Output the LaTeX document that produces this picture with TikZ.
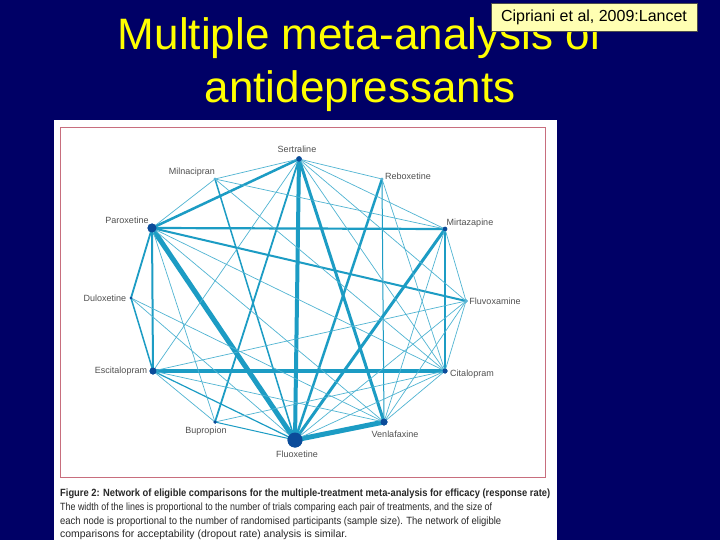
\documentclass[tikz,border=0pt]{standalone}
\usepackage{fontspec}
\setmainfont{Liberation Sans}
\usepackage{graphicx}
\definecolor{bg}{RGB}{0,0,102}
\definecolor{ttl}{RGB}{255,255,0}
\definecolor{note}{RGB}{255,255,178}
\definecolor{teal1}{RGB}{28,156,196}
\definecolor{tealthin}{RGB}{80,180,210}
\definecolor{nodeblue}{RGB}{11,76,154}
\definecolor{lightnode}{RGB}{90,180,215}
\definecolor{framec}{RGB}{200,110,125}
\definecolor{lblc}{RGB}{80,80,80}
\definecolor{capc}{RGB}{40,40,40}
\begin{document}
\begin{tikzpicture}[x=1pt,y=-1pt,
 edge/.style={draw=teal1},
 thinedge/.style={draw=tealthin, line width=0.7pt},
 dot/.style={circle, fill=nodeblue, inner sep=0pt},
 ldot/.style={circle, fill=lightnode, inner sep=0pt},
 lbl/.style={font=\fontsize{9}{10}\selectfont, text=lblc, inner sep=0pt},
 capl/.style={anchor=base west, inner sep=0pt, text=capc, font=\fontsize{10.5}{12}\selectfont},
]
\useasboundingbox (0,0) rectangle (720,540);
\fill[bg] (0,0) rectangle (720,540);
% title
\node[text=ttl, font=\fontsize{44}{50}\selectfont, anchor=base, inner sep=0pt] (t1) at (360,50) {Multiple meta-analysis of};
\node[text=ttl, font=\fontsize{44}{50}\selectfont, anchor=base, inner sep=0pt] (t2) at (360,103) {antidepressants};
% citation box
\node[draw=black!70, line width=0.6pt, fill=note, minimum width=206pt, minimum height=28pt, inner sep=0pt,
      font=\fontsize{16}{18}\selectfont] (cite) at (594,17) {Cipriani et al, 2009:Lancet};
% white panel and frame
\fill[white] (54,120) rectangle (557,540);
\draw[framec, line width=0.9pt] (60,127) rectangle (545,477);
% nodes
\node[dot, minimum size=5.5pt] (Ser) at (299,159) {};
\node[ldot, minimum size=2.6pt] (Reb) at (382,179) {};
\node[dot, minimum size=4.5pt] (Mir) at (445,229) {};
\node[ldot, minimum size=3.5pt] (Flv) at (466,301) {};
\node[dot, minimum size=5pt] (Cit) at (445,371) {};
\node[dot, minimum size=7pt] (Ven) at (384,422) {};
\node[dot, minimum size=15pt] (Flx) at (295,440) {};
\node[dot, minimum size=3.5pt] (Bup) at (215,422) {};
\node[dot, minimum size=7pt] (Esc) at (153,371) {};
\node[dot, minimum size=2.8pt] (Dul) at (131,298) {};
\node[dot, minimum size=9pt] (Par) at (152,228) {};
\node[ldot, minimum size=2.6pt] (Mil) at (215,179) {};
% edges
\begin{scope}[on background layer/.style={}]
\foreach \a/\b/\w in {Par/Flx/5, Flx/Ven/5, Ser/Flx/4, Ser/Ven/3, Esc/Cit/3.2, Par/Ser/2.5,
  Par/Mir/2.2, Flx/Mir/3, Flx/Reb/2.5, Par/Flv/2, Par/Esc/2, Par/Dul/1.8, Ser/Bup/1.8,
  Mil/Flx/1.5, Mir/Cit/1.5, Esc/Dul/1.5, Reb/Ven/1, Flx/Esc/1.2, Flx/Bup/1}
  \draw[edge, line width=\w pt] (\a.center) -- (\b.center);
\foreach \a/\b in {Ser/Mil, Ser/Reb, Ser/Mir, Ser/Flv, Ser/Cit, Ser/Esc, Par/Mil, Par/Cit,
  Par/Ven, Par/Bup, Mil/Mir, Mil/Cit, Reb/Cit, Mir/Flv, Mir/Ven, Flv/Cit, Flv/Flx, Flv/Ven,
  Flv/Esc, Cit/Flx, Cit/Ven, Cit/Bup, Ven/Esc, Ven/Dul, Flx/Dul, Esc/Bup}
  \draw[thinedge] (\a.center) -- (\b.center);
\end{scope}
% redraw nodes on top
\foreach \n/\s/\c in {Ser/5.5/nodeblue, Reb/2.6/lightnode, Mir/4.5/nodeblue, Flv/3.5/lightnode,
  Cit/5/nodeblue, Ven/7/nodeblue, Flx/15/nodeblue, Bup/3.5/nodeblue, Esc/7/nodeblue,
  Dul/2.8/nodeblue, Par/9/nodeblue, Mil/2.6/lightnode}
  \fill[\c] (\n.center) circle[radius=\s/2];
% labels
\node[lbl] (lSer) at (297,149) {Sertraline};
\node[lbl] (lMil) at (192,172) {Milnacipran};
\node[lbl] (lReb) at (408,176) {Reboxetine};
\node[lbl] (lMir) at (470,223) {Mirtazapine};
\node[lbl] (lFlv) at (495,301) {Fluvoxamine};
\node[lbl] (lCit) at (472,374) {Citalopram};
\node[lbl] (lVen) at (395,434) {Venlafaxine};
\node[lbl] (lFlx) at (297,454) {Fluoxetine};
\node[lbl] (lBup) at (206,431) {Bupropion};
\node[lbl] (lEsc) at (121,371) {Escitalopram};
\node[lbl] (lDul) at (105,298) {Duloxetine};
\node[lbl] (lPar) at (127,220) {Paroxetine};
% caption
\node[capl] (c1) at (60,496) {\resizebox{490pt}{\height}{\bfseries Figure 2: Network of eligible comparisons for the multiple-treatment meta-analysis for efficacy (response rate)}};
\node[capl] (c2) at (60,510) {\resizebox{432pt}{\height}{The width of the lines is proportional to the number of trials comparing each pair of treatments, and the size of}};
\node[capl] (c3) at (60,524) {\resizebox{441pt}{\height}{each node is proportional to the number of randomised participants (sample size). The network of eligible}};
\node[capl] (c4) at (60,537) {\resizebox{287pt}{\height}{comparisons for acceptability (dropout rate) analysis is similar.}};
\end{tikzpicture}
\end{document}
